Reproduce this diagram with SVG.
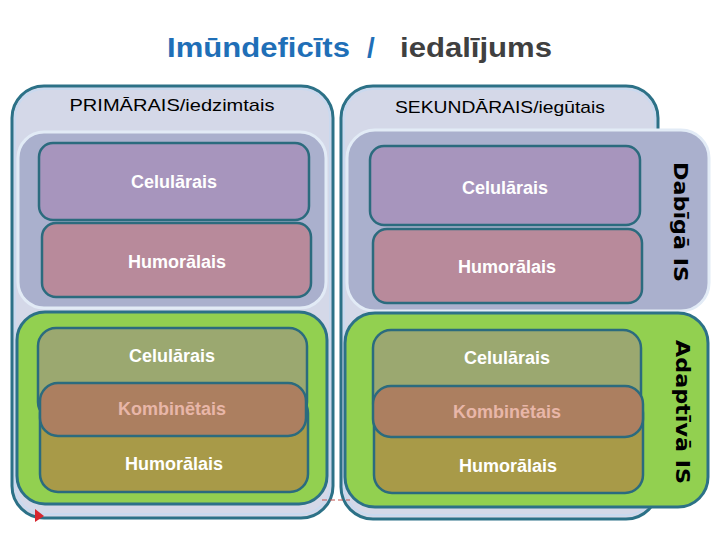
<svg xmlns="http://www.w3.org/2000/svg" width="720" height="540" viewBox="0 0 720 540">
<defs>
<style>
.outer{fill:#d4d8e8;stroke:#2c7187;stroke-width:3}
.inband{fill:none;stroke:#c9d9ef;stroke-width:2}
.blue{fill:#aab0cd;stroke:#e2ebf6;stroke-width:3}
.green{fill:#92d050;stroke:#2c7187;stroke-width:3}
.box{stroke:#2b6b7e;stroke-width:2.5}
.cel{fill:#a795bd}
.hum{fill:#b88a9b}
.gcel{fill:#9ba870}
.ghum{fill:#a89a48}
.komb{fill:#ac7f60}
.lbl{font-family:"Liberation Sans",Arial,sans-serif;font-size:18px;font-weight:bold;fill:#ffffff;text-anchor:middle}
.klbl{fill:#e8b6a8}
.head{font-family:"Liberation Sans",Arial,sans-serif;font-size:17px;fill:#000000;text-anchor:middle}
.vert{font-family:"DejaVu Sans",Verdana,sans-serif;font-size:20px;font-weight:bold;fill:#000000;text-anchor:middle}
.title{font-family:"Liberation Sans",Arial,sans-serif;font-size:28px;font-weight:bold}
</style>
</defs>

<g id="title">
<text class="title" x="167" y="57" fill="#1f6fb7" textLength="183" lengthAdjust="spacingAndGlyphs">Imūndeficīts</text>
<text class="title" x="367" y="57" fill="#1f6fb7">/</text>
<text class="title" x="400" y="57" fill="#404040" textLength="152" lengthAdjust="spacingAndGlyphs">iedalījums</text>
</g>

<g id="primary">
<rect class="outer" x="12" y="86" width="321" height="432" rx="32"/>
<rect class="inband" x="15" y="89" width="315" height="425" rx="29"/>
<text class="head" x="172" y="111" textLength="205" lengthAdjust="spacingAndGlyphs">PRIMĀRAIS/iedzimtais</text>
</g>

<g id="secondary">
<rect class="outer" x="341" y="86" width="317" height="433" rx="32"/>
<rect class="inband" x="344" y="89" width="311" height="426" rx="29"/>
<text class="head" x="500" y="113" textLength="210" lengthAdjust="spacingAndGlyphs">SEKUNDĀRAIS/iegūtais</text>
</g>

<g id="innate-left">
<rect class="blue" x="18" y="132" width="308" height="176" rx="26"/>
</g>

<g id="innate-right">
<rect class="blue" x="347" y="130" width="362" height="181" rx="28"/>
<text class="vert" transform="translate(674,222) rotate(90)" textLength="120" lengthAdjust="spacingAndGlyphs">Dabīgā IS</text>
</g>

<g id="adaptive-left">
<rect class="green" x="17" y="312" width="310" height="192" rx="28"/>
</g>

<g id="adaptive-right">
<rect class="green" x="345" y="313" width="363" height="194" rx="30"/>
<text class="vert" transform="translate(676,412) rotate(90)" textLength="144" lengthAdjust="spacingAndGlyphs">Adaptīvā IS</text>
</g>

<g id="p-innate-cel">
<rect class="box cel" x="39" y="143" width="270" height="77" rx="14"/>
<text class="lbl" x="174" y="188">Celulārais</text>
</g>
<g id="p-innate-hum">
<rect class="box hum" x="42" y="223" width="269" height="74" rx="14"/>
<text class="lbl" x="177" y="268">Humorālais</text>
</g>
<g id="s-innate-cel">
<rect class="box cel" x="370" y="146" width="270" height="79" rx="14"/>
<text class="lbl" x="505" y="194">Celulārais</text>
</g>
<g id="s-innate-hum">
<rect class="box hum" x="373" y="229" width="269" height="74" rx="14"/>
<text class="lbl" x="507" y="273">Humorālais</text>
</g>

<g id="p-adapt-cel">
<rect class="box gcel" x="38" y="328" width="269" height="92" rx="18"/>
<text class="lbl" x="172" y="362">Celulārais</text>
</g>
<g id="p-adapt-hum">
<rect class="box ghum" x="40" y="395" width="268" height="97" rx="18"/>
<text class="lbl" x="174" y="470">Humorālais</text>
</g>
<g id="p-adapt-komb">
<rect class="box komb" x="40" y="383" width="266" height="53" rx="18"/>
<text class="lbl klbl" x="172" y="415">Kombinētais</text>
</g>

<g id="s-adapt-cel">
<rect class="box gcel" x="373" y="330" width="268" height="90" rx="18"/>
<text class="lbl" x="507" y="364">Celulārais</text>
</g>
<g id="s-adapt-hum">
<rect class="box ghum" x="374" y="395" width="269" height="98" rx="18"/>
<text class="lbl" x="508" y="472">Humorālais</text>
</g>
<g id="s-adapt-komb">
<rect class="box komb" x="373" y="386" width="270" height="51" rx="18"/>
<text class="lbl klbl" x="507" y="418">Kombinētais</text>
</g>

<g id="connectors">
<line x1="322" y1="500" x2="350" y2="500" stroke="#c0504d" stroke-width="1" stroke-dasharray="5,3"/>
<polygon points="35,509 44,516 35,522" fill="#d7262e"/>
</g>
</svg>
